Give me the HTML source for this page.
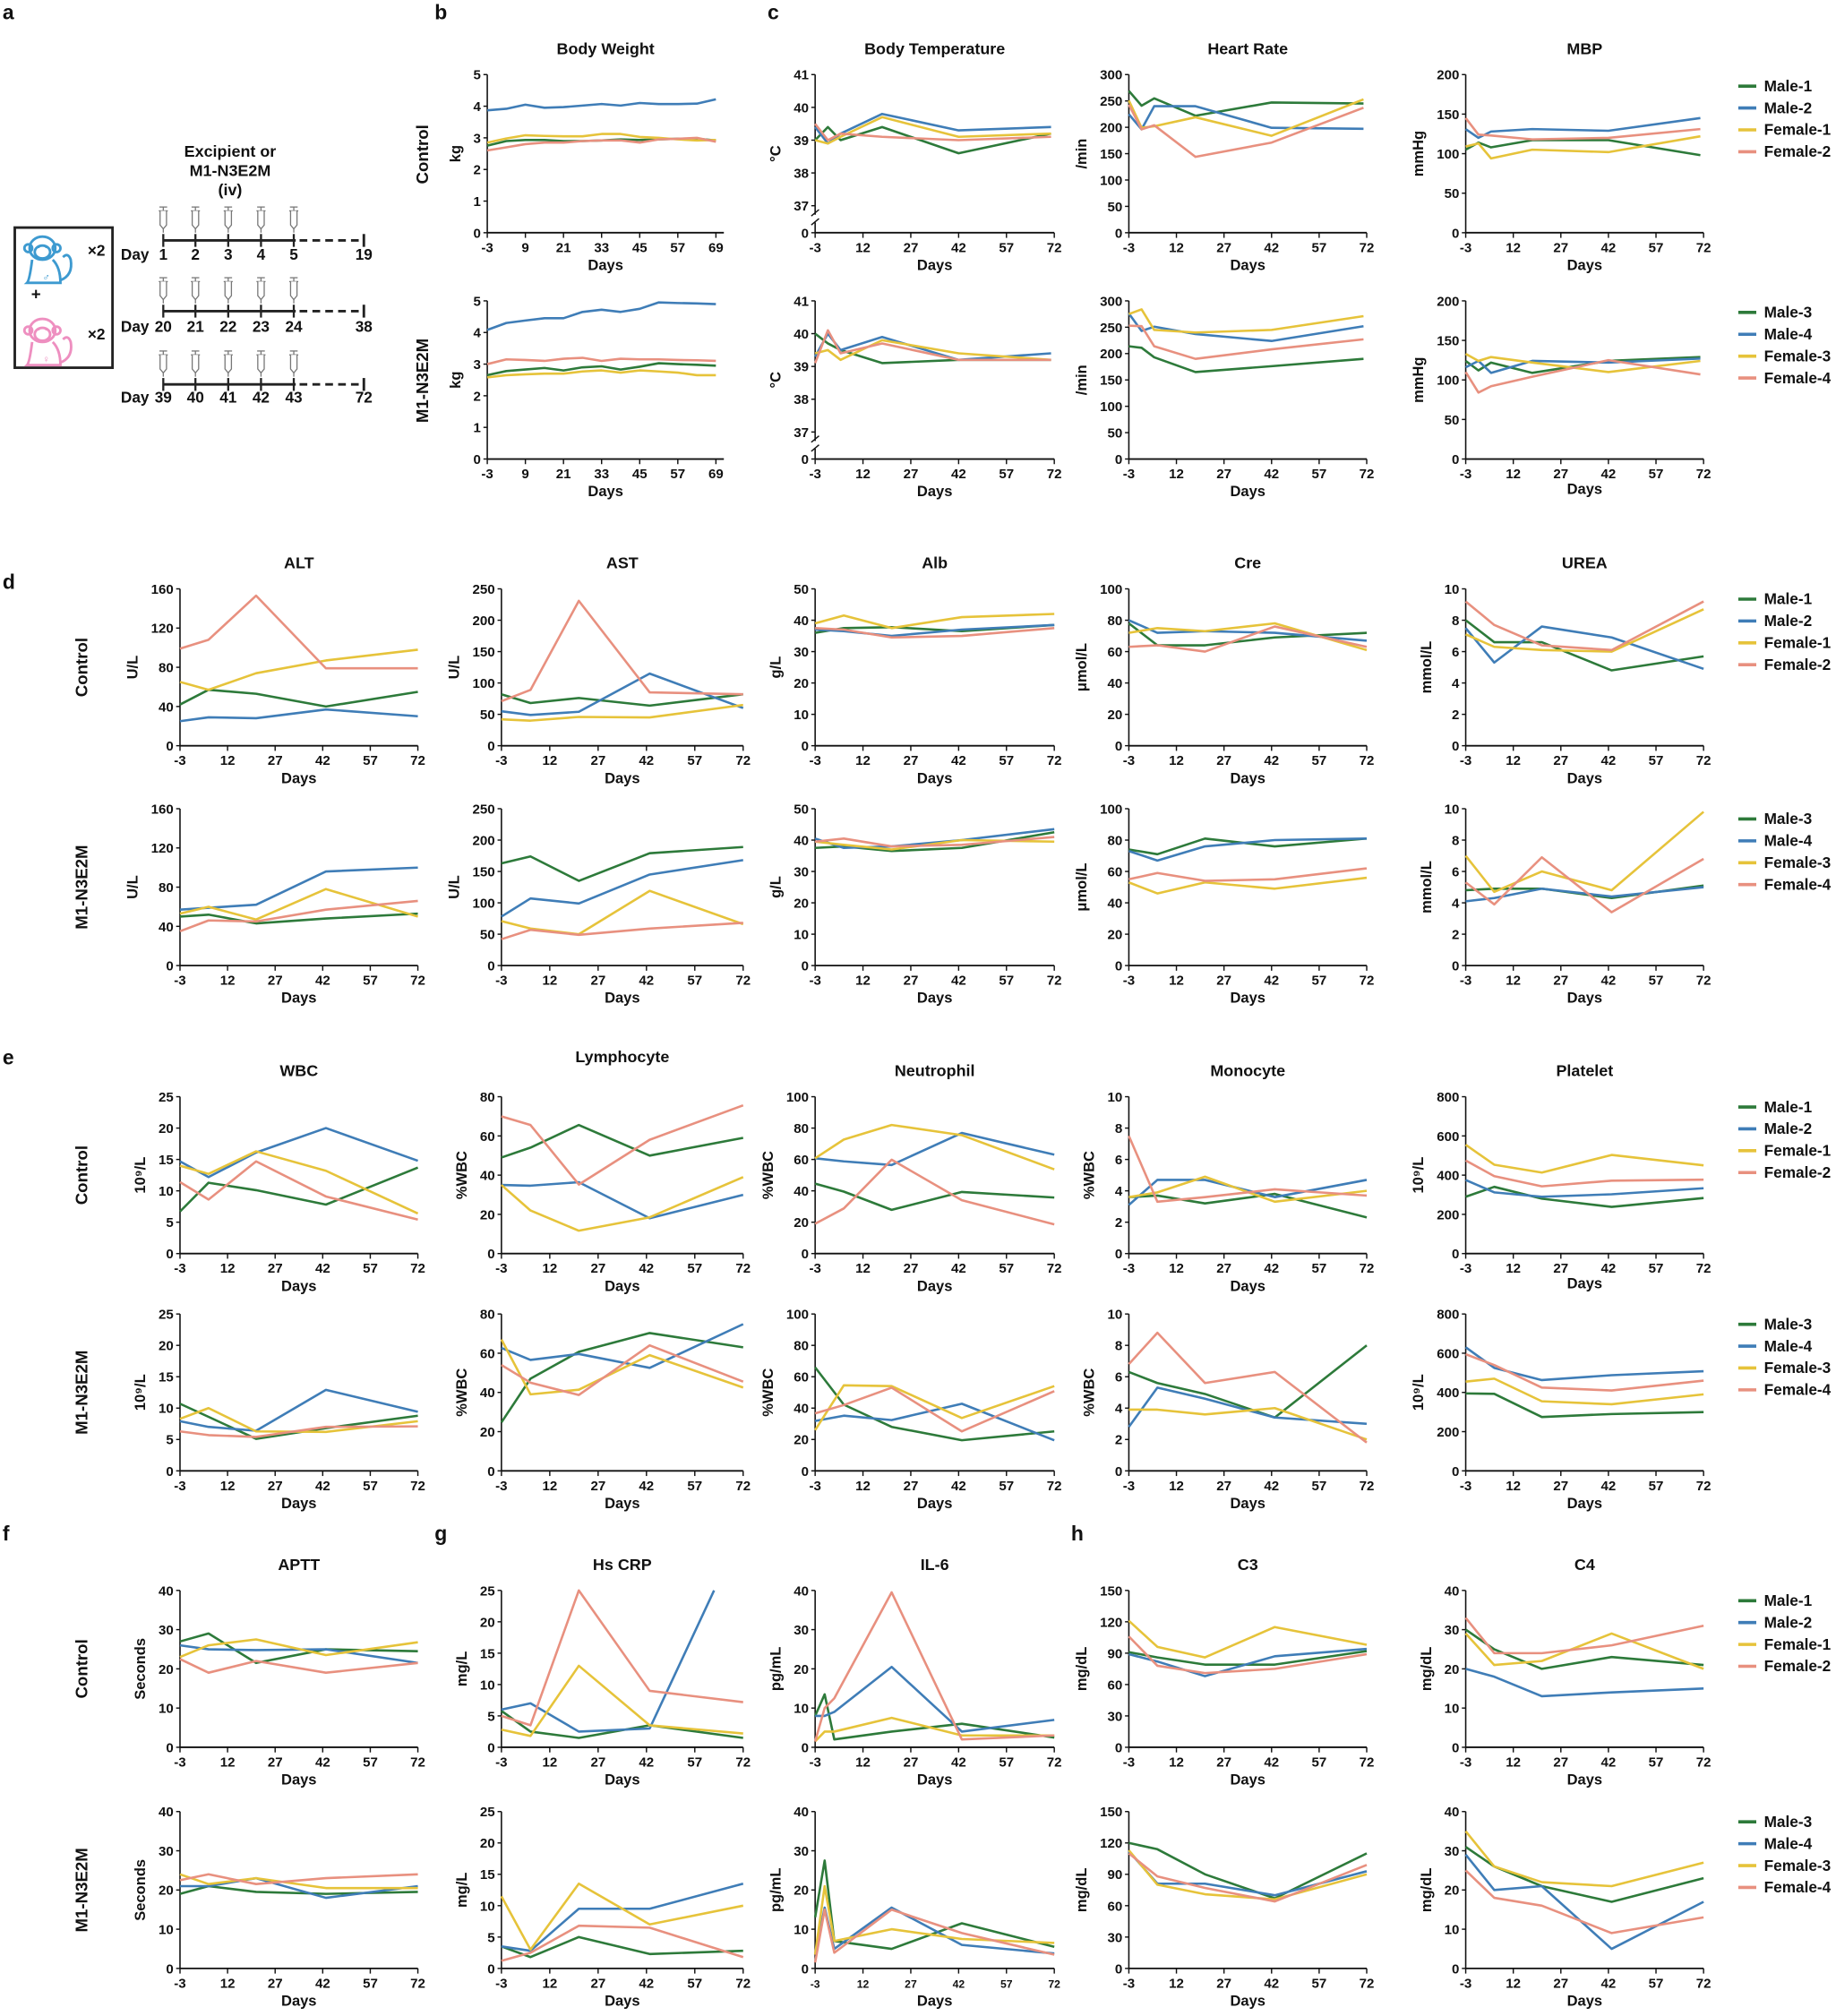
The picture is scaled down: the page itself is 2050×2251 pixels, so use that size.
<!DOCTYPE html>
<html><head><meta charset="utf-8">
<style>
html,body{margin:0;padding:0;background:#fff;}
svg{display:block;font-family:"Liberation Sans",Arial,sans-serif;}
text{font-weight:bold;fill:#111;}
</style></head>
<body>
<svg id="fig" xmlns="http://www.w3.org/2000/svg" width="2050" height="2251" viewBox="0 0 1428 1568">
<g id="schematic"></g>
</svg>
<script>
// ---------- data ----------
const D5 = [-3,6,21,43,72];
const DT = [-3,1,5,18,42,71];
const DBW = [-3,3,9,15,21,27,33,39,45,51,57,63,69];
const DIL = [-3,0,3,21,43,72];
const DCRPB = [-3,6,21,43,63];
const CTRL_NAMES = ['Male-1','Male-2','Female-1','Female-2'];
const M1_NAMES = ['Male-3','Male-4','Female-3','Female-4'];

const bwControl = [[2.75,2.9,2.93,2.93,2.9,2.9,2.92,2.95,2.93,2.95,2.97,2.97,2.92],[3.87,3.92,4.05,3.95,3.97,4.02,4.07,4.02,4.1,4.07,4.07,4.08,4.22],[2.85,2.98,3.08,3.06,3.05,3.05,3.12,3.12,3.03,3.0,2.95,2.92,2.93],[2.6,2.7,2.8,2.85,2.85,2.9,2.92,2.92,2.85,2.95,2.97,3.0,2.88]];
const bwM1 = [[2.65,2.78,2.83,2.88,2.8,2.9,2.93,2.83,2.92,3.03,3.0,2.98,2.95],[4.08,4.3,4.38,4.45,4.45,4.65,4.72,4.65,4.75,4.95,4.93,4.92,4.9],[2.58,2.65,2.68,2.7,2.7,2.77,2.8,2.73,2.8,2.77,2.73,2.65,2.65],[3.0,3.15,3.13,3.1,3.17,3.2,3.1,3.17,3.15,3.15,3.13,3.12,3.1]];
const tempControl = [[39.0,39.4,39.0,39.4,38.6,39.2],[39.4,38.9,39.2,39.8,39.3,39.4],[39.0,38.9,39.1,39.7,39.1,39.2],[39.5,39.0,39.2,39.1,39.0,39.1]];
const tempM1 = [[40.0,39.7,39.5,39.1,39.2,39.2],[39.3,40.0,39.5,39.9,39.2,39.4],[39.4,39.5,39.2,39.8,39.4,39.2],[39.1,40.1,39.4,39.7,39.2,39.2]];
const hrControl = [[269,241,255,222,247,245],[225,196,240,240,199,197],[251,199,202,219,184,253],[243,196,204,144,171,237]];
const hrM1 = [[214,211,193,165,176,190],[276,243,251,237,224,252],[275,284,245,240,245,271],[253,252,214,190,208,227]];
const mbpControl = [[105,114,108,117,117,98],[131,120,128,131,129,145],[109,113,94,105,102,122],[145,124,123,118,120,131]];
const mbpM1 = [[124,112,122,109,124,129],[116,124,109,124,122,127],[133,124,129,122,110,124],[110,84,92,104,125,107]];
const altControl = [[42,57,53,40,55],[25,29,28,37,30],[65,57,74,87,98],[99,108,153,79,79]];
const altM1 = [[50,52,43,48,53],[57,59,62,96,100],[53,60,47,78,50],[35,46,45,57,66]];
const astControl = [[82,68,76,64,82],[55,49,54,115,60],[42,40,46,45,65],[71,89,231,85,82]];
const astM1 = [[163,174,135,179,189],[78,107,99,145,168],[71,59,50,119,66],[42,57,49,59,68]];
const albControl = [[36,37.5,37.8,36.5,38.5],[37,36.5,35,37,38.5],[39,41.5,37.5,41,42],[37.5,37,34.5,35,37.5]];
const albM1 = [[37.5,38,36.5,37.5,42.5],[40.5,37.5,38,40,43.5],[39.5,38.5,37,40,39.5],[39.5,40.5,38,38.5,41]];
const creControl = [[78,64,64,69,72],[80,72,73,72,67],[72,75,73,78,61],[63,64,60,76,63]];
const creM1 = [[74,71,81,76,81],[73,67,76,80,81],[53,46,53,49,56],[55,59,54,55,62]];
const ureaControl = [[8.0,6.6,6.6,4.8,5.7],[7.5,5.3,7.6,6.9,4.9],[7.1,6.3,6.1,6.0,8.7],[9.2,7.7,6.4,6.1,9.2]];
const ureaM1 = [[4.8,4.9,4.9,4.3,5.1],[4.1,4.3,4.9,4.4,5.0],[7.0,4.7,6.0,4.8,9.8],[5.3,3.9,6.9,3.4,6.8]];
const wbcControl = [[6.7,11.3,10.1,7.8,13.7],[14.7,12.2,16.1,20,14.8],[14,12.7,16.3,13.2,6.4],[11.4,8.6,14.7,9.1,5.4]];
const wbcM1 = [[10.7,8.6,5.1,6.8,8.8],[7.9,7.0,6.4,12.9,9.4],[8.3,10,6.3,6.2,7.9],[6.3,5.7,5.4,7.0,7.1]];
const lymControl = [[49,54,65.6,50,59],[35,34.6,36.4,18,30],[35,22,11.7,18.5,39],[70,65.6,35.2,58,75.6]];
const lymM1 = [[24.7,47,60.7,70.3,63],[62.7,56.6,59.6,52.5,74.8],[67,39,41.4,59,42.5],[54,45,38.7,64,45.5]];
const neuControl = [[44.6,39.5,27.9,39.3,35.7],[60.7,58.8,56.5,76.9,63],[60.7,72.7,82,75.5,53.7],[19,28.8,59.8,34,18.6]];
const neuM1 = [[66,42.2,28,19.5,25.2],[31.8,35.2,32.4,42.8,19.5],[26,54.5,54,33.7,54],[36.6,42,53,25.2,50.8]];
const monoControl = [[3.6,3.7,3.2,3.8,2.3],[3.1,4.7,4.7,3.6,4.7],[3.6,3.9,4.9,3.3,4.0],[7.5,3.3,3.6,4.1,3.7]];
const monoM1 = [[6.3,5.6,4.9,3.4,8.0],[2.8,5.3,4.6,3.4,3.0],[3.9,3.9,3.6,4.0,2.0],[6.8,8.8,5.6,6.3,1.8]];
const pltControl = [[290,340,280,238,283],[375,312,290,302,333],[555,453,413,503,450],[475,395,343,372,377]];
const pltM1 = [[395,393,275,290,300],[630,525,463,488,508],[455,470,355,340,390],[595,540,425,410,460]];
const apttControl = [[27,29,21.5,25,24.5],[26,25,24.8,25,21.5],[23,26,27.5,23.5,26.8],[22.5,19,22,19,21.5]];
const apttM1 = [[19,21,19.5,19,19.5],[21,21,23,18,21],[24,21.5,23,20.5,20.5],[22.5,24,21.5,23,24]];
const crpControl = [[5.8,2.5,1.5,3.5,1.5],[6,7,2.5,3,25],[2.8,1.8,13,3.5,2.2],[5,3.5,25,9,7.2]];
const crpM1 = [[3.5,1.8,5,2.3,2.8],[3.5,2.8,9.5,9.5,13.5],[11.5,3,13.5,7,10],[1.2,2.5,6.8,6.5,1.8]];
const il6Control = [[8,13.5,2,4,6,2.5],[8,8,9,20.5,4,7],[1.5,4,4,7.5,3,3],[1.5,10,12.5,39.5,2,3]];
const il6M1 = [[13,27.5,7,5,11.5,5.5],[3.5,15.5,5,15.5,6,3.8],[3.5,21,7,10,7.5,6.5],[1.5,15,4,15,9,3.5]];
const c3Control = [[91,86,79,79,92],[89,82,68,87,94],[121,96,86,115,98],[106,78,71,75,89]];
const c3M1 = [[120,114,90,67,110],[112,81,81,70,93],[113,80,71,66,90],[110,88,77,64,99]];
const c4Control = [[30,25,20,23,21],[20,18,13,14,15],[29,21,22,29,20],[33,24,24,26,31]];
const c4M1 = [[31,26,21,17,23],[29,20,21,5,17],[35,26,22,21,27],[25,18,16,9,13]];

const XT6 = [-3,12,27,42,57,72];
const XTBW = [-3,9,21,33,45,57,69];

// ---------- drawing ----------
const NS='http://www.w3.org/2000/svg';
const svg=document.getElementById('fig');
const COLORS=['#2d7a3a','#3f7db7','#e6c33a','#e8907f'];
function mk(tag,attrs,parent){const e=document.createElementNS(NS,tag);for(const k in attrs)e.setAttribute(k,attrs[k]);(parent||svg).appendChild(e);return e;}
function txt(s,x,y,size,anchor,parent,rot){const t=mk('text',{x:x,y:y,'font-size':size,'text-anchor':anchor||'middle'},parent);if(rot)t.setAttribute('transform','rotate(-90 '+x+' '+y+')');t.textContent=s;return t;}

function panel(p){
  const g=mk('g',{});
  
  
  const xd=p.xdom||[-3,72];
  const sx=d=>p.x0+(d-xd[0])/(xd[1]-xd[0])*(p.x1-p.x0);
  let sy;
  if(p.broken){ sy=v=>p.yb-21-(v-37)/4*(p.yb-21-p.yt); }
  else { sy=v=>p.yb-(v-p.yt0)/(p.ymax-p.yt0)*(p.yb-p.yt); }
  if(p.broken){
    mk('line',{x1:p.x0,y1:p.yt,x2:p.x0,y2:p.yb-14,stroke:'#111','stroke-width':1.1},g);
    mk('line',{x1:p.x0,y1:p.yb-8,x2:p.x0,y2:p.yb,stroke:'#111','stroke-width':1.1},g);
    mk('line',{x1:p.x0-3,y1:p.yb-13,x2:p.x0+3,y2:p.yb-18,stroke:'#111','stroke-width':1},g);
    mk('line',{x1:p.x0-3,y1:p.yb-6,x2:p.x0+3,y2:p.yb-11,stroke:'#111','stroke-width':1},g);
  } else {
    mk('line',{x1:p.x0,y1:p.yt,x2:p.x0,y2:p.yb,stroke:'#111','stroke-width':1.1},g);
  }
  mk('line',{x1:p.x0,y1:p.yb,x2:p.x1,y2:p.yb,stroke:'#111','stroke-width':1.3},g);
  p.yticks.forEach(v=>{
    const y=(p.broken&&v===0)?p.yb:sy(v);
    mk('line',{x1:p.x0-3,y1:y,x2:p.x0,y2:y,stroke:'#111','stroke-width':1},g);
    const t=txt(String(v),p.x0-5,y+3.8,10.5,'end',g);
    
  });
  p.xticks.forEach(d=>{
    const x=sx(d);
    mk('line',{x1:x,y1:p.yb,x2:x,y2:p.yb+4,stroke:'#111','stroke-width':1},g);
    const t=txt(String(d),x,p.yb+15,p.xfs||10.5,'middle',g);
    
  });
  const xl=txt('Days',(p.x0+p.x1)/2,p.yb+(p.dayOff||29),11.5,'middle',g);
  
  const maxLen=Math.max(...p.yticks.map(v=>String(v).length));
  const ux=p.x0-10-maxLen*6-5;
  const ul=txt(p.unit,ux,(p.yt+p.yb)/2,11.5,'middle',g,true);
  
  if(p.title){const tt=txt(p.title,(p.x0+p.x1)/2,p.yt-16,12.5,'middle',g);}
  p.series.forEach((vals,i)=>{
    const days=(p.daysFor&&p.daysFor[i])||p.days;
    const pts=vals.map((v,j)=>sx(days[j]).toFixed(1)+','+sy(v).toFixed(1)).join(' ');
    const pl=mk('polyline',{points:pts,fill:'none',stroke:COLORS[i],'stroke-width':1.8,'stroke-linejoin':'round'},g);
    
    
  });
}

function legend(names,y){
  const g=mk('g',{});
  
  
  names.forEach((n,i)=>{
    const yy=y+i*17;
    mk('line',{x1:1352,y1:yy,x2:1366,y2:yy,stroke:COLORS[i],'stroke-width':2.5},g);
    const t=txt(n,1372,yy+4,12,'start',g);
    
  });
}
function groupLabel(s,x,y){const t=txt(s,x,y,13,'middle',svg,true);}
function letter(s,x,y){const t=txt(s,x,y,16,'start');}

const C1=[140,325],C2=[390,578],C3=[634,820],C4=[878,1063],C5=[1140,1325];
const R={b1:[58,181],b2:[234,357],d1:[458,580],d2:[629,751],e1:[853,975],e2:[1022,1144],f1:[1237,1359],f2:[1409,1531]};

function P(name,col,row,title,unit,ymax,yticks,series,days,names,extra){
  const p=Object.assign({name:name,x0:col[0],x1:col[1],yt:R[row][0],yb:R[row][1],title:title,unit:unit,ymax:ymax,yt0:0,yticks:yticks,xticks:XT6,series:series,days:days,names:names},extra||{});
  panel(p);
}
const CN=CTRL_NAMES,MN=M1_NAMES;
P('body-weight-control',[379,563],'b1','Body Weight','kg',5,[0,1,2,3,4,5],bwControl,DBW,CN,{xticks:XTBW,xdom:[-3,71.5]});
P('body-weight-m1',[379,563],'b2','','kg',5,[0,1,2,3,4,5],bwM1,DBW,MN,{xticks:XTBW,xdom:[-3,71.5]});
P('body-temp-control',C3,'b1','Body Temperature','°C',41,[0,37,38,39,40,41],tempControl,DT,CN,{broken:true});
P('body-temp-m1',C3,'b2','','°C',41,[0,37,38,39,40,41],tempM1,DT,MN,{broken:true});
P('heart-rate-control',C4,'b1','Heart  Rate','/min',300,[0,50,100,150,200,250,300],hrControl,DT,CN);
P('heart-rate-m1',C4,'b2','','/min',300,[0,50,100,150,200,250,300],hrM1,DT,MN);
P('mbp-control',C5,'b1','MBP','mmHg',200,[0,50,100,150,200],mbpControl,DT,CN);
P('mbp-m1',C5,'b2','','mmHg',200,[0,50,100,150,200],mbpM1,DT,MN,{dayOff:27});
P('alt-control',C1,'d1','ALT','U/L',160,[0,40,80,120,160],altControl,D5,CN);
P('alt-m1',C1,'d2','','U/L',160,[0,40,80,120,160],altM1,D5,MN);
P('ast-control',C2,'d1','AST','U/L',250,[0,50,100,150,200,250],astControl,D5,CN);
P('ast-m1',C2,'d2','','U/L',250,[0,50,100,150,200,250],astM1,D5,MN);
P('alb-control',C3,'d1','Alb','g/L',50,[0,10,20,30,40,50],albControl,D5,CN);
P('alb-m1',C3,'d2','','g/L',50,[0,10,20,30,40,50],albM1,D5,MN);
P('cre-control',C4,'d1','Cre','μmol/L',100,[0,20,40,60,80,100],creControl,D5,CN);
P('cre-m1',C4,'d2','','μmol/L',100,[0,20,40,60,80,100],creM1,D5,MN);
P('urea-control',C5,'d1','UREA','mmol/L',10,[0,2,4,6,8,10],ureaControl,D5,CN);
P('urea-m1',C5,'d2','','mmol/L',10,[0,2,4,6,8,10],ureaM1,D5,MN);
P('wbc-control',C1,'e1','WBC','10⁹/L',25,[0,5,10,15,20,25],wbcControl,D5,CN);
P('wbc-m1',C1,'e2','','10⁹/L',25,[0,5,10,15,20,25],wbcM1,D5,MN);
P('lymphocyte-control',C2,'e1','Lymphocyte','%WBC',80,[0,20,40,60,80],lymControl,D5,CN,{title:''});
P('lymphocyte-m1',C2,'e2','','%WBC',80,[0,20,40,60,80],lymM1,D5,MN);
P('neutrophil-control',C3,'e1','Neutrophil','%WBC',100,[0,20,40,60,80,100],neuControl,D5,CN);
P('neutrophil-m1',C3,'e2','','%WBC',100,[0,20,40,60,80,100],neuM1,D5,MN);
P('monocyte-control',C4,'e1','Monocyte','%WBC',10,[0,2,4,6,8,10],monoControl,D5,CN);
P('monocyte-m1',C4,'e2','','%WBC',10,[0,2,4,6,8,10],monoM1,D5,MN);
P('platelet-control',C5,'e1','Platelet','10⁹/L',800,[0,200,400,600,800],pltControl,D5,CN,{dayOff:27});
P('platelet-m1',C5,'e2','','10⁹/L',800,[0,200,400,600,800],pltM1,D5,MN);
(function(){const t=txt('Lymphocyte',(C2[0]+C2[1])/2,826,12.5,'middle');})();
P('aptt-control',C1,'f1','APTT','Seconds',40,[0,10,20,30,40],apttControl,D5,CN);
P('aptt-m1',C1,'f2','','Seconds',40,[0,10,20,30,40],apttM1,D5,MN);
P('hs-crp-control',C2,'f1','Hs CRP','mg/L',25,[0,5,10,15,20,25],crpControl,D5,CN,{daysFor:[D5,DCRPB,D5,D5]});
P('hs-crp-m1',C2,'f2','','mg/L',25,[0,5,10,15,20,25],crpM1,D5,MN);
P('il6-control',C3,'f1','IL-6','pg/mL',40,[0,10,20,30,40],il6Control,DIL,CN);
P('il6-m1',C3,'f2','','pg/mL',40,[0,10,20,30,40],il6M1,DIL,MN,{xfs:8.5});
P('c3-control',C4,'f1','C3','mg/dL',150,[0,30,60,90,120,150],c3Control,D5,CN);
P('c3-m1',C4,'f2','','mg/dL',150,[0,30,60,90,120,150],c3M1,D5,MN);
P('c4-control',C5,'f1','C4','mg/dL',40,[0,10,20,30,40],c4Control,D5,CN);
P('c4-m1',C5,'f2','','mg/dL',40,[0,10,20,30,40],c4M1,D5,MN);

legend(CN,67);legend(MN,243);legend(CN,466);legend(MN,637);legend(CN,861);legend(MN,1030);legend(CN,1245);legend(MN,1417);

groupLabel('Control',333,120);groupLabel('M1-N3E2M',333,296);
groupLabel('Control',68,519);groupLabel('M1-N3E2M',68,690);
groupLabel('Control',68,914);groupLabel('M1-N3E2M',68,1083);
groupLabel('Control',68,1298);groupLabel('M1-N3E2M',68,1470);

letter('a',2,15);letter('b',338,15);letter('c',597,15);letter('d',2,458);letter('e',2,828);letter('f',2,1198);letter('g',338,1198);letter('h',833,1198);

// ---------- schematic (panel a) ----------
const sg=document.getElementById('schematic');
mk('rect',{x:11.5,y:177,width:76,height:109,fill:'none',stroke:'#222','stroke-width':2},sg);
function monkey(cx,cy,col,sym){
  const g=mk('g',{fill:'none',stroke:col,'stroke-width':2},sg);
  mk('ellipse',{cx:cx,cy:cy-7,rx:10,ry:9},g);
  mk('ellipse',{cx:cx,cy:cy-4,rx:6,ry:5},g);
  mk('circle',{cx:cx-11,cy:cy-7,r:3},g);
  mk('circle',{cx:cx+11,cy:cy-7,r:3},g);
  mk('path',{d:`M${cx-8} ${cy+2} Q${cx-10} ${cy+18} ${cx-12} ${cy+20} L${cx+14} ${cy+20} Q${cx+14} ${cy+8} ${cx+8} ${cy+2}`},g);
  mk('path',{d:`M${cx+14} ${cy+18} Q${cx+24} ${cy+14} ${cx+22} ${cy+2} Q${cx+20} ${cy-4} ${cx+16} ${cy}`},g);
  mk('circle',{cx:cx-3,cy:cy-8,r:1,fill:col,stroke:'none'},g);
  mk('circle',{cx:cx+3,cy:cy-8,r:1,fill:col,stroke:'none'},g);
  const t=txt(sym,cx+3,cy+18,8,'middle',sg);t.setAttribute('fill',col);t.style.fill=col;
}
monkey(33,200,'#3d9ad0','♂');
monkey(33,264,'#ee8fc0','♀');
txt('×2',75,199,12,'middle',sg);
txt('+',28,233,13,'middle',sg);
txt('×2',75,264,12,'middle',sg);
txt('Excipient or',179,122,12.5,'middle',sg);
txt('M1-N3E2M',179,137,12.5,'middle',sg);
txt('(iv)',179,152,12.5,'middle',sg);
const tickX=[127,152,177.5,203,228.5];
const rows=[[187,202,['1','2','3','4','5'],'19'],[242,258,['20','21','22','23','24'],'38'],[299,313,['39','40','41','42','43'],'72']];
rows.forEach(r=>{
  const [ly,ty,labs,end]=r;
  mk('line',{x1:127,y1:ly,x2:230,y2:ly,stroke:'#222','stroke-width':2},sg);
  mk('line',{x1:233,y1:ly,x2:281,y2:ly,stroke:'#222','stroke-width':2,'stroke-dasharray':'6,4'},sg);
  mk('line',{x1:283,y1:ly-5,x2:283,y2:ly+5,stroke:'#222','stroke-width':2},sg);
  tickX.forEach((x,i)=>{
    mk('line',{x1:x,y1:ly-5,x2:x,y2:ly+5,stroke:'#222','stroke-width':1.6},sg);
    const s=mk('g',{fill:'#fff',stroke:'#777','stroke-width':0.9},sg);
    mk('line',{x1:x-3,y1:ly-26,x2:x+3,y2:ly-26},s);
    mk('line',{x1:x,y1:ly-26,x2:x,y2:ly-23},s);
    mk('line',{x1:x-3.5,y1:ly-23,x2:x+3.5,y2:ly-23},s);
    mk('path',{d:`M${x-2.5} ${ly-23} L${x-2.5} ${ly-12} L${x} ${ly-9} L${x+2.5} ${ly-12} L${x+2.5} ${ly-23}`},s);
    mk('line',{x1:x,y1:ly-9,x2:x,y2:ly-6},s);
    txt(labs[i],x,ty,12,'middle',sg);
  });
  txt(end,283,ty,12,'middle',sg);
  txt('Day',116,ty,12,'end',sg);
});
</script>
</body></html>
